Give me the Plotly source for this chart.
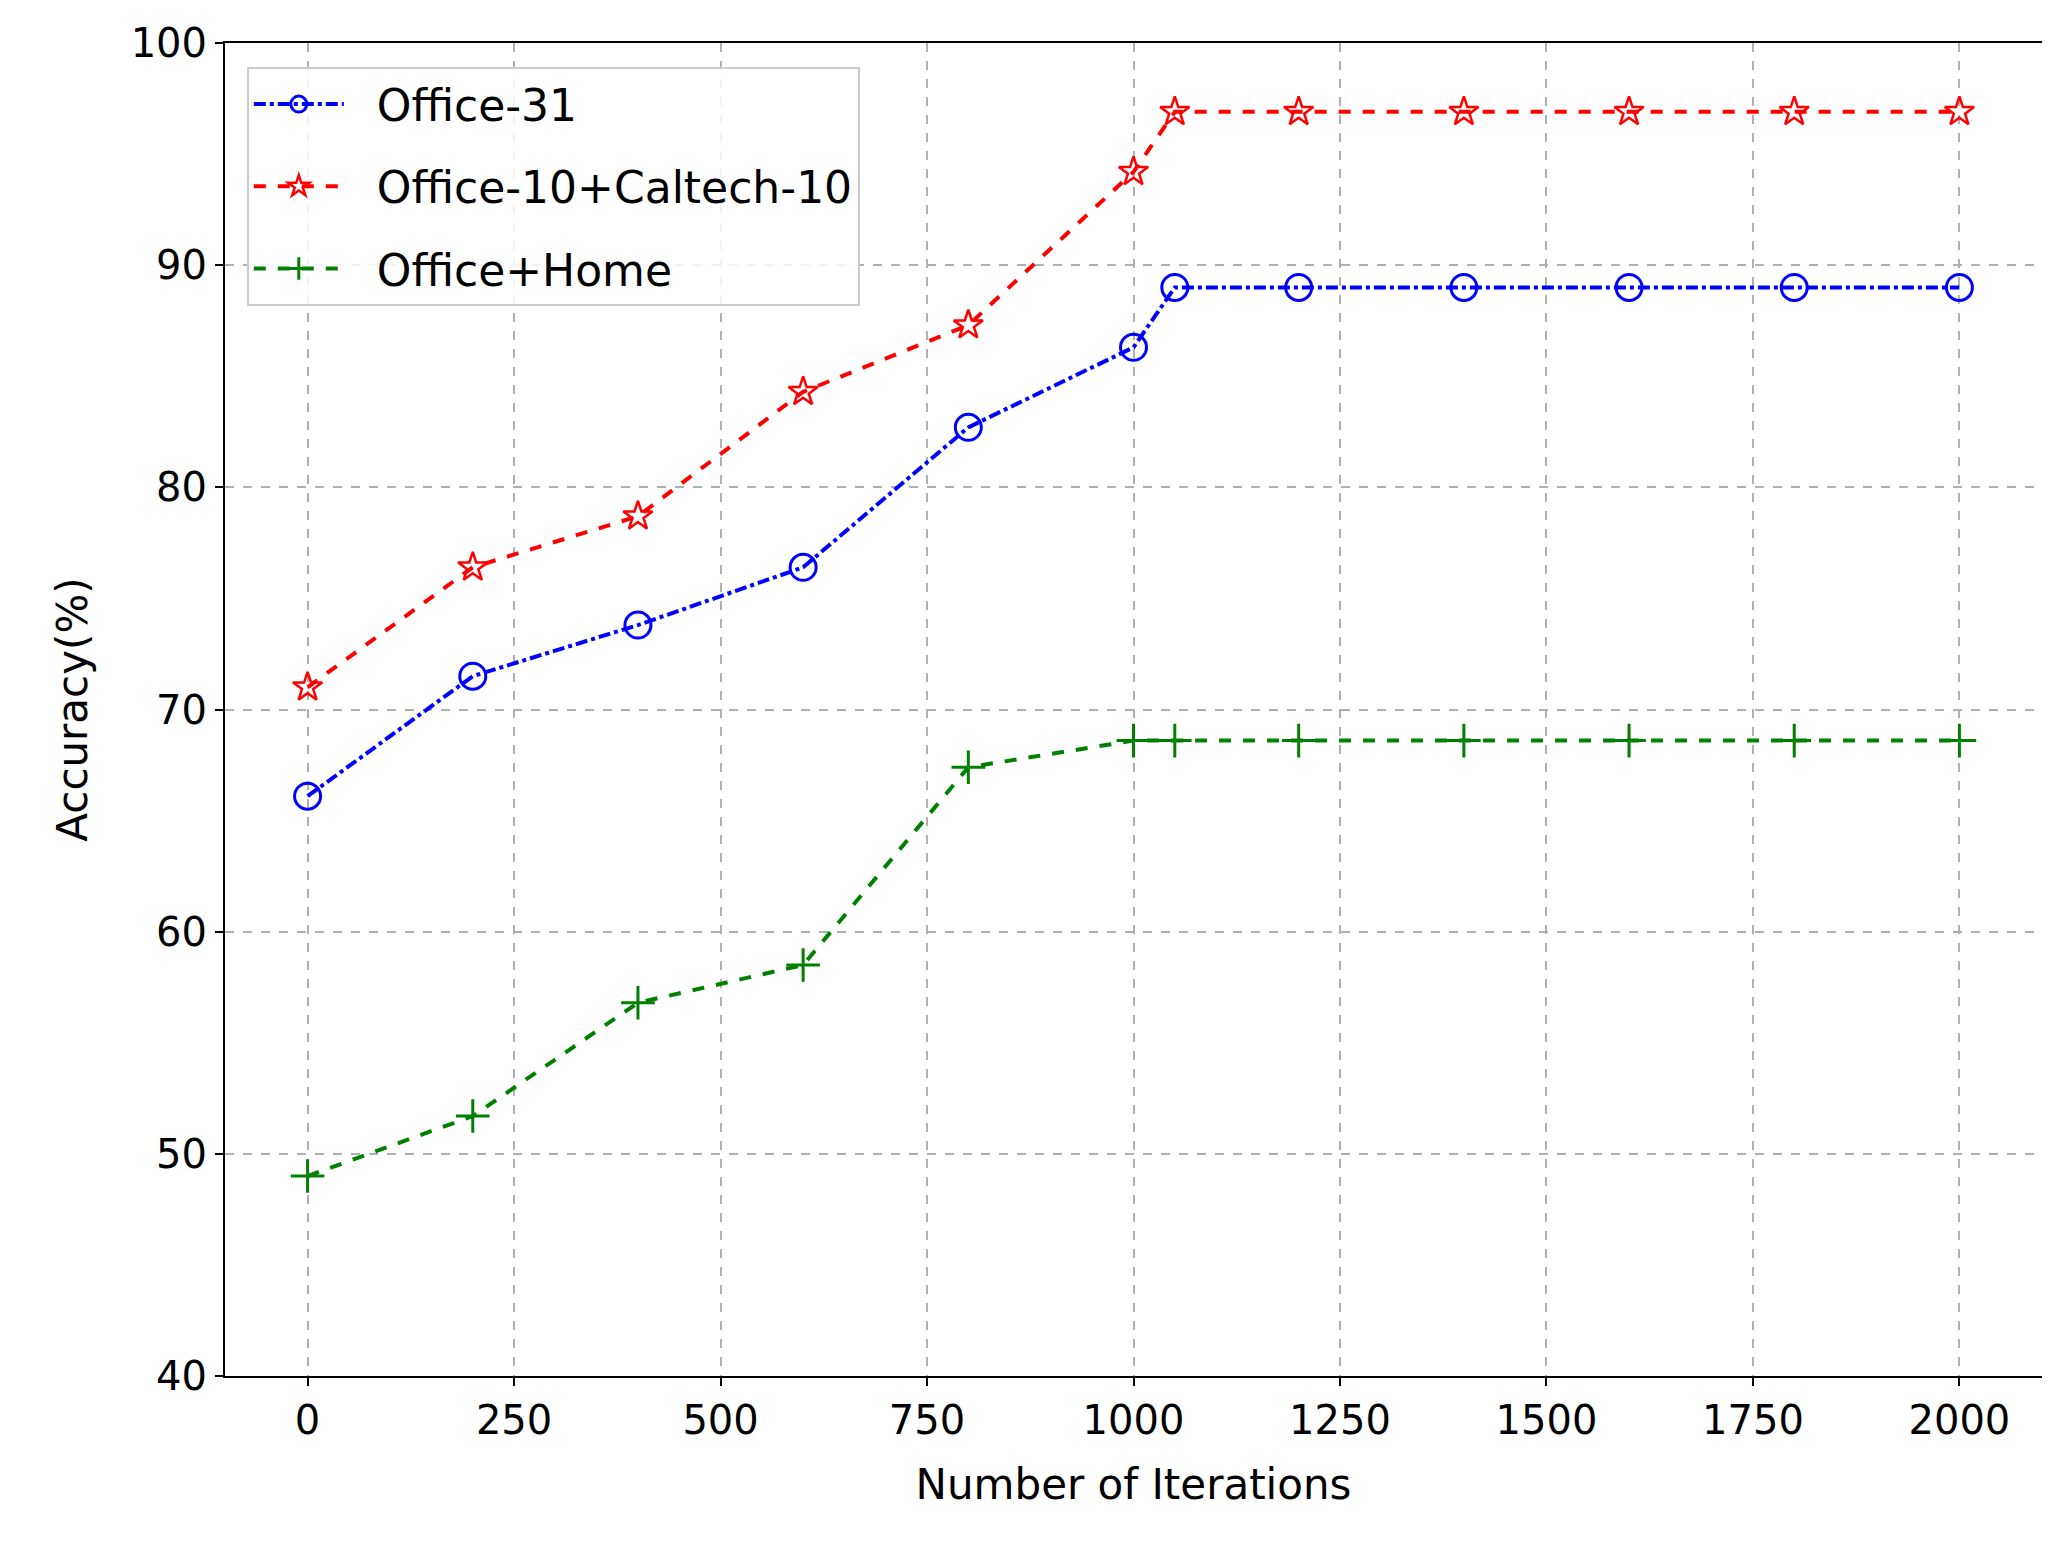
import plotly.graph_objects as go

iters = [0, 200, 400, 600, 800, 1000, 1050, 1200, 1400, 1600, 1800, 2000]
office31 = [66.1, 71.5, 73.8, 76.4, 82.7, 86.3, 89.0, 89.0, 89.0, 89.0, 89.0, 89.0]
office_caltech = [71.0, 76.4, 78.7, 84.3, 87.3, 94.2, 96.9, 96.9, 96.9, 96.9, 96.9, 96.9]
office_home = [49.0, 51.7, 56.8, 58.5, 67.4, 68.6, 68.6, 68.6, 68.6, 68.6, 68.6, 68.6]

fig = go.Figure()
fig.add_trace(go.Scatter(x=iters, y=office31, name="  Office-31", mode="lines+markers", legendgroup="a",
    line=dict(color="blue", width=4, dash="dashdot"),
    marker=dict(symbol="circle-open", size=26, color="blue", line=dict(width=3))))
fig.add_trace(go.Scatter(x=iters, y=office_caltech, name="  Office-10+Caltech-10", mode="lines+markers", legendgroup="b",
    line=dict(color="red", width=4, dash="dash"),
    marker=dict(symbol="star-open", size=22, color="red", line=dict(width=2.5))))
fig.add_trace(go.Scatter(x=iters, y=office_home, name="  Office+Home", mode="lines+markers", legendgroup="c",
    line=dict(color="green", width=4, dash="dash"),
    marker=dict(symbol="cross-thin-open", size=24, color="green", line=dict(width=3))))

axis_common = dict(showline=True, linecolor="black", linewidth=2, mirror=True,
    showgrid=True, gridcolor="#b0b0b0", griddash="dash", gridwidth=1.5,
    ticks="outside", ticklen=8, tickwidth=2, tickcolor="black", zeroline=False,
    tickfont=dict(family="DejaVu Sans", size=40, color="black"))
fig.update_layout(
    width=2050, height=1551, plot_bgcolor="white", paper_bgcolor="white",
    margin=dict(l=217, r=16, t=33, b=183),
    font=dict(family="DejaVu Sans", color="black"),
    xaxis=dict(range=[-100, 2100], tickvals=[0, 250, 500, 750, 1000, 1250, 1500, 1750, 2000],
        title=dict(text="Number of Iterations", font=dict(size=42), standoff=28), **axis_common),
    yaxis=dict(range=[40, 100], dtick=10,
        title=dict(text="Accuracy(%)", font=dict(size=42), standoff=30), **axis_common),
    legend=dict(x=0.012, y=0.982, xanchor="left", yanchor="top", bgcolor="rgba(255,255,255,0.85)",
        bordercolor="#cccccc", borderwidth=2, font=dict(size=44), itemwidth=90,
        tracegroupgap=22),
)
fig.write_html("out.html")
